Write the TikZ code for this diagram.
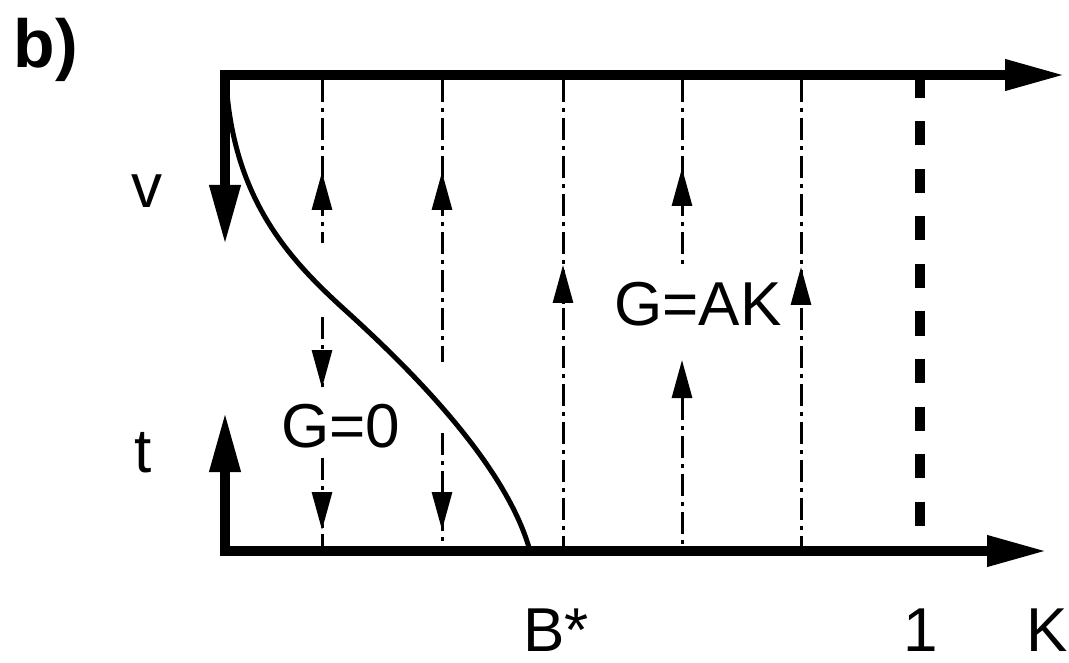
\documentclass[tikz,border=0pt]{standalone}
\usepackage{fontspec}
\setmainfont{Liberation Sans}
\usetikzlibrary{arrows.meta}
\tikzset{
  axis/.style={line width=10pt, line join=miter, line cap=butt},
  flow/.style={line width=3pt, dash pattern=on 22pt off 6pt on 4pt off 6pt},
  smalltip/.style={line width=3pt, -{Triangle[length=38pt,width=20pt]}},
  bound/.style={line width=10pt, dash pattern=on 24pt off 23.5pt},
  curve/.style={line width=5pt},
  lbl/.style={inner sep=0pt, anchor=base, font=\fontsize{62}{62}\selectfont},
}
\begin{document}
\begin{tikzpicture}[x=1pt,y=-1pt]
\useasboundingbox (0,0) rectangle (1069,663);
% axes
\coordinate (TL) at (225,75);
\coordinate (BL) at (225,551);
\coordinate (vtip) at (225,245);
\coordinate (ttip) at (225,412);
\coordinate (ktop) at (1065,75);
\coordinate (kbot) at (1047,551);
\draw[axis, {Triangle[length=60pt,width=29pt]}-{Triangle[length=60pt,width=29pt]}] (vtip) -- (TL) -- (ktop);
\draw[axis, {Triangle[length=60pt,width=29pt]}-{Triangle[length=60pt,width=29pt]}] (ttip) -- (BL) -- (kbot);
% boundary K=1
\coordinate (k1a) at (920,74);
\coordinate (k1b) at (920,527);
\draw[bound] (k1a) -- (k1b);
% separatrix curve
\coordinate (c0) at (226,80);
\coordinate (cm) at (345,310);
\coordinate (Bstar) at (530,551);
\draw[curve] (c0) .. controls (233,200) and (290,260) .. (cm)
  .. controls (400,360) and (505,460) .. (Bstar);
% flow line 1 (x=322)
\draw[flow] (322,80) -- (322,243);
\draw[smalltip] (322,211) -- (322,172);
\draw[flow] (322,317) -- (322,388);
\draw[smalltip] (322,350) -- (322,388);
\draw[flow] (322,458) -- (322,547);
\draw[smalltip] (322,492) -- (322,530);
% flow line 2 (x=442)
\draw[flow] (442,80) -- (442,362);
\draw[smalltip] (442,211) -- (442,172);
\draw[flow] (442,433) -- (442,547);
\draw[smalltip] (442,492) -- (442,530);
% flow line 3 (x=563)
\draw[flow] (563,80) -- (563,547);
\draw[smalltip] (563,304) -- (563,265);
% flow line 4 (x=682)
\draw[flow] (682,80) -- (682,267);
\draw[smalltip] (682,207) -- (682,168);
\draw[flow] (682,398) -- (682,547);
\draw[smalltip] (682,399) -- (682,360);
% flow line 5 (x=801)
\draw[flow] (801,80) -- (801,547);
\draw[smalltip] (801,305) -- (801,267);
% labels
\node[lbl, font=\fontsize{68}{68}\selectfont\bfseries] (lb) at (46,68) {b)};
\node[lbl] (lv) at (147,208) {v};
\node[lbl] (lt) at (143,472) {t};
\node[lbl] (lg0) at (341,447) {G=0};
\node[lbl] (lgak) at (698,326) {G=AK};
\node[lbl] (lB) at (556,651) {B*};
\node[lbl] (l1) at (921,651) {1};
\node[lbl] (lK) at (1047,651) {K};
\end{tikzpicture}
\end{document}
